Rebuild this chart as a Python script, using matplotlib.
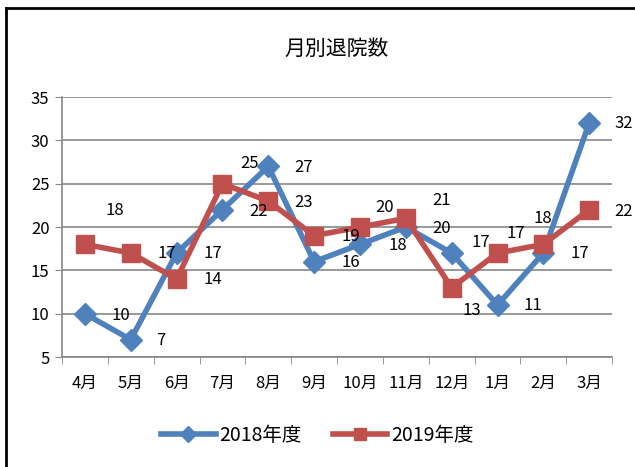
import numpy as np
import matplotlib.pyplot as plt
from matplotlib.lines import Line2D

plt.rcParams['font.family'] = ['Noto Sans CJK JP', 'DejaVu Sans']

months = ['4月', '5月', '6月', '7月', '8月', '9月', '10月', '11月', '12月', '1月', '2月', '3月']
fy2018 = [10, 7, 17, 22, 27, 16, 18, 20, 17, 11, 17, 32]
fy2019 = [18, 17, 14, 25, 23, 19, 20, 21, 13, 17, 18, 22]

# label offsets (x in categories, y in data units)
dx18 = [0.79, 0.66, 0.79, 0.78, 0.78, 0.8, 0.82, 0.77, 0.64, 0.77, 0.79, 0.76]
dy18 = [-0.2, -0.1, 0.0, -0.2, -0.1, -0.1, -0.1, -0.15, 1.2, -0.1, 0.0, -0.1]
dx19 = [0.66, 0.79, 0.79, 0.6, 0.78, 0.8, 0.53, 0.77, 0.45, 0.39, -0.01, 0.76]
dy19 = [3.9, 0.0, -0.1, 2.3, -0.15, -0.1, 2.3, 2.1, -2.6, 2.3, 3.0, -0.2]

blue = '#4F81BD'
red = '#C0504D'

fig = plt.figure(figsize=(6.35, 4.67), dpi=100)
ax = fig.add_axes([0.0976, 0.2355, 0.8664, 0.5567])

x = np.arange(len(months))
ax.plot(x, fy2018, color=blue, lw=4, marker='D', ms=11, label='2018年度', zorder=3)
ax.plot(x, fy2019, color=red, lw=4, marker='s', ms=13, label='2019年度', zorder=4)

for i in range(len(months)):
    ax.text(x[i] + dx18[i], fy2018[i] + dy18[i], str(fy2018[i]), fontsize=12,
            ha='center', va='center', zorder=5)
    ax.text(x[i] + dx19[i], fy2019[i] + dy19[i], str(fy2019[i]), fontsize=12,
            ha='center', va='center', zorder=5)

ax.set_xlim(-0.5, 11.5)
ax.set_ylim(5, 35)
ax.set_yticks(range(5, 36, 5))
ax.set_xticks(x)
ax.set_xticklabels(months, fontsize=12)
ax.set_xticks(np.arange(-0.5, 12, 1), minor=True)
ax.tick_params(axis='x', which='major', length=0, pad=13)
ax.tick_params(axis='x', which='minor', length=5, color='#888888', direction='out')
ax.tick_params(axis='y', length=5, color='#888888', labelsize=12, pad=4)
ax.grid(axis='y', color='#888888', lw=1.2)
ax.set_axisbelow(True)
for s in ['top', 'right']:
    ax.spines[s].set_visible(False)
for s in ['left', 'bottom']:
    ax.spines[s].set_color('#888888')
    ax.spines[s].set_linewidth(1.2)

ax.set_title('月別退院数', fontsize=15, pad=30)

fig.legend(loc='center', bbox_to_anchor=(0.5, 0.068), ncol=2, frameon=False,
           fontsize=14, handlelength=2.8, columnspacing=1.6, handletextpad=0.2,
           markerscale=0.7)

# chart frame (left and top edges visible)
fig.add_artist(Line2D([0.009, 0.009], [0.0, 0.983], color='black', lw=2, transform=fig.transFigure))
fig.add_artist(Line2D([0.009, 1.0], [0.983, 0.983], color='black', lw=2, transform=fig.transFigure))

fig.savefig('out.png', dpi=100)
